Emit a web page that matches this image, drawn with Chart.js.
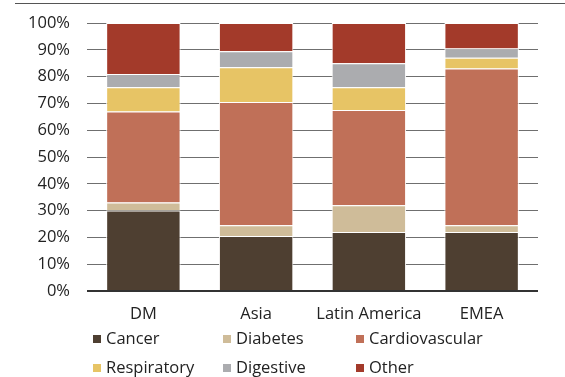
<!DOCTYPE html>
<html>
<head>
<meta charset="utf-8">
<script src="https://cdn.jsdelivr.net/npm/chart.js@4/dist/chart.umd.min.js"></script>
<style>
  html, body { margin: 0; padding: 0; background: #fff; }
  #wrap { width: 565px; height: 377px; position: relative; }
</style>
</head>
<body>
<div id="wrap"><canvas id="c" width="565" height="377"></canvas></div>
<script>
// Regions on the x axis
const regions = ['DM', 'Asia', 'Latin America', 'EMEA'];

// Share of deaths by cause (%), one value per region
const cancer         = [30, 20.5, 22, 22];
const diabetes       = [3, 4, 10, 2.5];
const cardiovascular = [34, 46, 35.5, 58.5];
const respiratory    = [9, 13, 8.5, 4];
const digestive      = [5, 6, 9, 3.5];
const other          = [19, 10.5, 15, 9.5];

const yTicks = [0, 10, 20, 30, 40, 50, 60, 70, 80, 90, 100];

const FONT = '"Open Sans", "Noto Sans", sans-serif';
const FONT_SIZE = 16.5;
const TEXT = '#222222';

const series = [
  { label: 'Cancer',         data: cancer,         color: '#4e3f31' },
  { label: 'Diabetes',       data: diabetes,       color: '#cfbc99' },
  { label: 'Cardiovascular', data: cardiovascular, color: '#c07058' },
  { label: 'Respiratory',    data: respiratory,    color: '#e7c465' },
  { label: 'Digestive',      data: digestive,      color: '#abacaf' },
  { label: 'Other',          data: other,          color: '#a33a2a' }
];

// Legend laid out as a 3-column grid under the axis labels
const legendGrid = {
  id: 'legendGrid',
  afterDraw(chart) {
    const ctx = chart.ctx;
    const cols = [93, 223, 356];
    const rows = [339, 368];
    ctx.save();
    ctx.font = FONT_SIZE + 'px ' + FONT;
    ctx.textBaseline = 'middle';
    ctx.textAlign = 'left';
    chart.data.datasets.forEach((ds, i) => {
      const x = cols[i % 3];
      const y = rows[Math.floor(i / 3)];
      ctx.fillStyle = ds.backgroundColor;
      ctx.fillRect(x, y - 4, 8, 8);
      ctx.fillStyle = TEXT;
      ctx.fillText(ds.label, x + 13, y);
    });
    ctx.restore();
  }
};

// Rule across the top and heavier baseline at 0%
const frame = {
  id: 'frame',
  beforeDatasetsDraw(chart) {
    const ctx = chart.ctx;
    ctx.save();
    ctx.strokeStyle = '#555555';
    ctx.lineWidth = 1;
    ctx.beginPath();
    ctx.moveTo(15, 3.5);
    ctx.lineTo(565, 3.5);
    ctx.stroke();
    ctx.restore();
  },
  afterDatasetsDraw(chart) {
    const ctx = chart.ctx;
    const a = chart.chartArea;
    const y0 = chart.scales.y.getPixelForValue(0);
    ctx.save();
    ctx.strokeStyle = '#333333';
    ctx.lineWidth = 2;
    ctx.beginPath();
    ctx.moveTo(a.left, y0);
    ctx.lineTo(a.right, y0);
    ctx.stroke();
    ctx.restore();
  }
};

new Chart(document.getElementById('c'), {
  type: 'bar',
  data: {
    labels: regions,
    datasets: series.map(s => ({
      label: s.label,
      data: s.data,
      backgroundColor: s.color,
      borderColor: '#ffffff',
      borderWidth: 1,
      barPercentage: 0.66,
      categoryPercentage: 1.0
    }))
  },
  options: {
    responsive: false,
    animation: false,
    devicePixelRatio: 1,
    layout: { padding: { top: 23, right: 27, bottom: 50, left: 0 } },
    plugins: {
      legend: { display: false },
      tooltip: { enabled: false }
    },
    scales: {
      x: {
        stacked: true,
        grid: { display: false, drawTicks: false },
        border: { display: false },
        ticks: { color: TEXT, font: { family: FONT, size: FONT_SIZE }, padding: 13 },
        afterFit(axis) { axis.height = 36; axis.paddingLeft = 0; axis.paddingRight = 0; }
      },
      y: {
        stacked: true,
        min: 0,
        max: 100,
        afterBuildTicks(axis) { axis.ticks = yTicks.map(v => ({ value: v })); },
        grid: { color: '#6f6f6f', lineWidth: 1, drawTicks: false },
        border: { display: false },
        ticks: {
          color: TEXT,
          font: { family: FONT, size: FONT_SIZE },
          padding: 17,
          callback: v => v + '%'
        },
        afterFit(axis) { axis.width = 87; axis.paddingTop = 0; axis.paddingBottom = 0; }
      }
    }
  },
  plugins: [frame, legendGrid]
});
</script>
</body>
</html>
